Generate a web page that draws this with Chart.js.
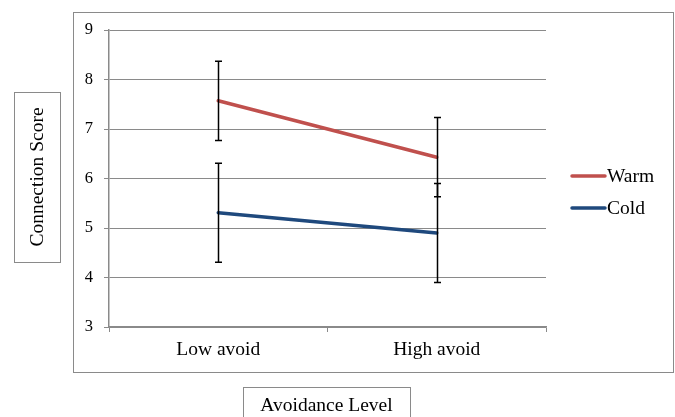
<!DOCTYPE html>
<html>
<head>
<meta charset="utf-8">
<script src="https://cdn.jsdelivr.net/npm/chart.js@4/dist/chart.umd.min.js"></script>
<style>
  html, body { margin: 0; padding: 0; background: #fff; }
  #wrap { position: relative; width: 675px; height: 417px; }
</style>
</head>
<body>
<div id="wrap"><canvas id="c" width="675" height="417"></canvas></div>
<script>
const categories = ["Low avoid", "High avoid"];
const seriesNames = ["Warm", "Cold"];
const warmValues = [7.57, 6.43];
const coldValues = [5.31, 4.90];
const warmErrors = [0.80, 0.80];
const coldErrors = [1.00, 1.00];
const yTicks = [3, 4, 5, 6, 7, 8, 9];
const yTitle = "Connection Score";
const xTitle = "Avoidance Level";

const SERIF = "'Liberation Serif', 'Times New Roman', serif";
const GRID = '#8a8a8a';
const WARM = '#C0504D';
const COLD = '#1F497D';

const errorSets = [warmErrors, coldErrors];

const decor = {
  id: 'decor',
  beforeDraw(chart) {
    const ctx = chart.ctx;
    ctx.save();
    ctx.fillStyle = '#fff';
    ctx.fillRect(0, 0, chart.width, chart.height);
    ctx.strokeStyle = GRID;
    ctx.lineWidth = 1;
    // outer chart border
    ctx.strokeRect(73.5, 12.5, 600, 360);
    // y title box
    ctx.strokeRect(14.5, 92.5, 46, 170);
    // x title box
    ctx.strokeRect(243.5, 387.5, 167, 40);
    ctx.restore();
  },
  afterDatasetsDraw(chart) {
    const ctx = chart.ctx;
    const xs = chart.scales.x, ys = chart.scales.y;
    ctx.save();
    ctx.strokeStyle = '#000';
    ctx.lineWidth = 1.5;
    chart.data.datasets.forEach((ds, di) => {
      const errs = errorSets[di];
      ds.data.forEach((v, i) => {
        const x = Math.round(xs.getPixelForValue(i)) + 0.5;
        const yt = ys.getPixelForValue(v + errs[i]);
        const yb = ys.getPixelForValue(v - errs[i]);
        ctx.beginPath();
        ctx.moveTo(x, yt); ctx.lineTo(x, yb);
        ctx.moveTo(x - 3.5, yt); ctx.lineTo(x + 3.5, yt);
        ctx.moveTo(x - 3.5, yb); ctx.lineTo(x + 3.5, yb);
        ctx.stroke();
      });
    });
    ctx.restore();
  },
  afterDraw(chart) {
    const ctx = chart.ctx;
    ctx.save();
    // legend
    const items = [[seriesNames[0], WARM, 176], [seriesNames[1], COLD, 208]];
    items.forEach(([name, col, y]) => {
      ctx.strokeStyle = col;
      ctx.lineWidth = 3.5;
      ctx.lineCap = 'round';
      ctx.beginPath();
      ctx.moveTo(572, y); ctx.lineTo(605, y);
      ctx.stroke();
      ctx.fillStyle = '#000';
      ctx.font = '19.5px ' + SERIF;
      ctx.textBaseline = 'middle';
      ctx.textAlign = 'left';
      ctx.fillText(name, 607, y + 1);
    });
    // axis titles
    ctx.fillStyle = '#000';
    ctx.font = '19.5px ' + SERIF;
    ctx.textAlign = 'center';
    ctx.textBaseline = 'middle';
    ctx.fillText(xTitle, 326.5, 406);
    ctx.translate(37.5, 177);
    ctx.rotate(-Math.PI / 2);
    ctx.fillText(yTitle, 0, 0);
    ctx.restore();
  }
};

new Chart(document.getElementById('c'), {
  type: 'line',
  data: {
    labels: categories,
    datasets: [
      { label: seriesNames[0], data: warmValues, borderColor: WARM, backgroundColor: WARM,
        borderWidth: 3.5, pointRadius: 0, tension: 0, borderCapStyle: 'round' },
      { label: seriesNames[1], data: coldValues, borderColor: COLD, backgroundColor: COLD,
        borderWidth: 3.5, pointRadius: 0, tension: 0, borderCapStyle: 'round' }
    ]
  },
  options: {
    responsive: false,
    animation: false,
    devicePixelRatio: 1,
    layout: { padding: { left: 73, right: 129, top: 30, bottom: 45 } },
    plugins: { legend: { display: false }, tooltip: { enabled: false }, title: { display: false } },
    scales: {
      x: {
        type: 'category',
        offset: true,
        grid: { offset: true, drawOnChartArea: false, drawTicks: true, tickLength: 5, color: GRID, lineWidth: 1 },
        border: { display: true, color: GRID, width: 1.5 },
        ticks: { color: '#000', font: { family: SERIF, size: 19.5 }, padding: 6, maxRotation: 0 },
        afterFit(s) { s.height = 45; }
      },
      y: {
        min: yTicks[0],
        max: yTicks[yTicks.length - 1],
        afterBuildTicks(s) { s.ticks = yTicks.map(v => ({ value: v })); },
        grid: { drawOnChartArea: true, drawTicks: true, tickLength: 5, color: GRID, lineWidth: 1 },
        border: { display: true, color: GRID, width: 1.5 },
        ticks: { color: '#000', font: { family: SERIF, size: 16.5 }, padding: 11 },
        afterFit(s) { s.width = 36; }
      }
    }
  },
  plugins: [decor]
});
</script>
</body>
</html>
